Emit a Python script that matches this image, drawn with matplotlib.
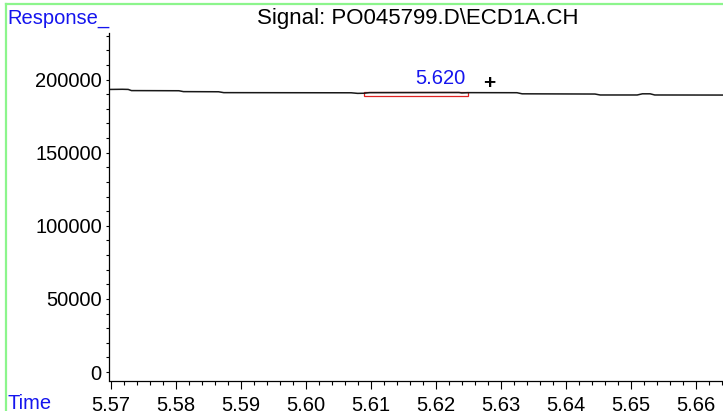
import matplotlib
matplotlib.use("Agg")
import matplotlib.pyplot as plt
from matplotlib.patches import Rectangle
from matplotlib.lines import Line2D
from matplotlib.ticker import MultipleLocator

plt.rcParams['font.family'] = ['Liberation Sans', 'DejaVu Sans']

# signal trace
time = [5.5700, 5.5718, 5.5727, 5.5732, 5.5805, 5.5812, 5.5866, 5.5874,
        5.6070, 5.6080, 5.6090, 5.6098, 5.6236, 5.6240, 5.6245, 5.6252,
        5.6325, 5.6333, 5.6445, 5.6453, 5.6510, 5.6518, 5.6530, 5.6537,
        5.6642]
response = [193300, 193400, 193300, 192500, 192400, 191800, 191700, 191100,
            191000, 190600, 190700, 191100, 191200, 190900, 191000, 191100,
            191050, 190300, 190150, 189500, 189500, 190300, 190300, 189500,
            189450]

# integrated peak
peak_rt = 5.620
peak_start = 5.6090
peak_end = 5.6249
peak_base = 189100
peak_top = 191200

title = "Signal: PO045799.D\\ECD1A.CH"
yticks = [0, 50000, 100000, 150000, 200000]
xticks = [5.57, 5.58, 5.59, 5.60, 5.61, 5.62, 5.63, 5.64, 5.65, 5.66]

W, H = 723, 411
fs = 14.5
fig = plt.figure(figsize=(W / 100, H / 100), dpi=100)
ax = fig.add_axes([109.5 / W, 1 - 381 / H, (W - 109.5) / W, (381 - 33) / H])

ax.plot(time, response, color='#181818', lw=1.1)
ax.add_patch(Rectangle((peak_start, peak_base), peak_end - peak_start,
                       peak_top - peak_base, fill=False, ec='#e02020', lw=0.9))
ax.text(peak_rt + 0.0007, 200600, "%.3f" % peak_rt, color='#1515ee',
        fontsize=fs, ha='center', va='center')
ax.text(5.6283, 197500, "+", color='black', fontsize=15, fontweight='bold',
        ha='center', va='center')

ax.set_xlim(5.56982, 5.66420)
ax.set_ylim(-6156, 231900)
ax.set_xticks(xticks)
ax.set_xticklabels(["%.2f" % t for t in xticks])
ax.set_yticks(yticks)
ax.set_yticklabels([str(v) for v in yticks])
ax.xaxis.set_minor_locator(MultipleLocator(0.002))
ax.yaxis.set_minor_locator(MultipleLocator(10000))

for s in ['top', 'right']:
    ax.spines[s].set_visible(False)
ax.spines['left'].set_linewidth(0.9)
ax.spines['bottom'].set_linewidth(0.9)

ax.tick_params(axis='x', which='major', length=6, width=0.8, pad=4.5, labelsize=fs)
ax.tick_params(axis='x', which='minor', length=3, width=0.8)
ax.tick_params(axis='y', which='major', length=2.5, width=0.8, pad=3, labelsize=fs)
ax.tick_params(axis='y', which='minor', length=2.5, width=0.8)

fig.text(7 / W, 1 - 24 / H, "Response_", color='#1515ee', fontsize=fs,
         ha='left', va='baseline')
fig.text(418 / W, 1 - 24 / H, title, color='black', fontsize=16,
         ha='center', va='baseline')
fig.text(7 / W, 1 - 409 / H, "Time", color='#1515ee', fontsize=fs,
         ha='left', va='baseline')

# green frame at top and left
fig.add_artist(Line2D([6 / W, 1], [1 - 4.5 / H, 1 - 4.5 / H], color='#8cf58c', lw=1.6))
fig.add_artist(Line2D([6 / W, 6 / W], [0, 1 - 4.5 / H], color='#8cf58c', lw=1.6))

fig.savefig("out.png", dpi=100)
